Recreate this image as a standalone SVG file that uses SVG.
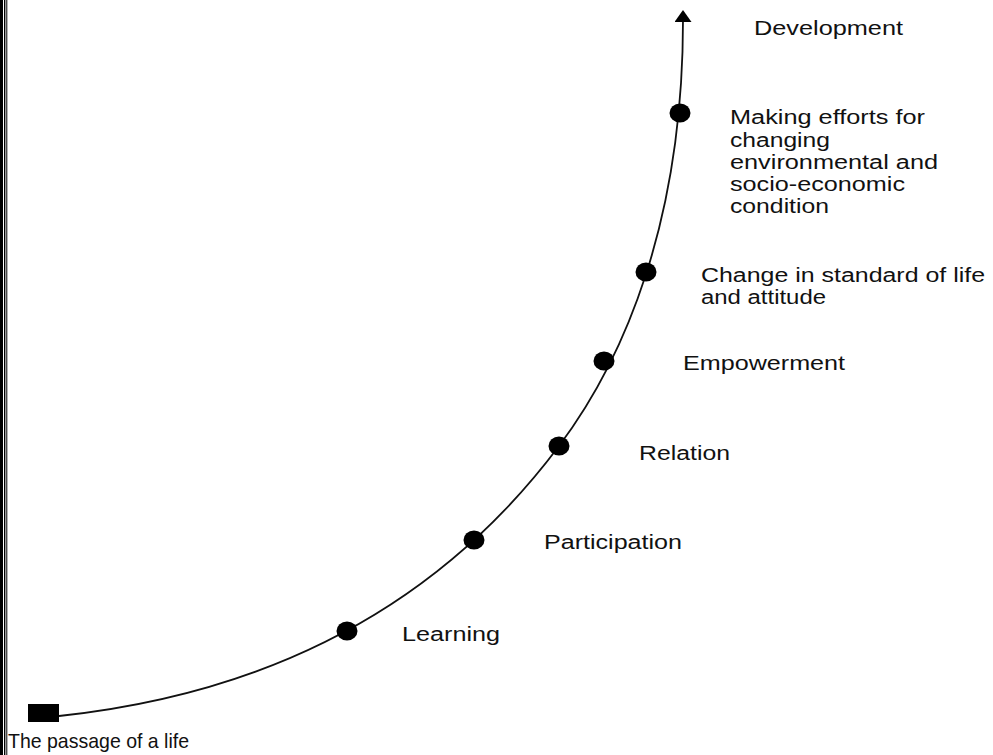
<svg xmlns="http://www.w3.org/2000/svg" width="993" height="755" viewBox="0 0 993 755">
  <style>
    .lbl { font-family: "Liberation Sans", Arial, sans-serif; font-size: 19.5px; fill: #111; }
    .big { font-size: 21px; }
    .dot { fill: #000; }
    .path { fill: none; stroke: #111; stroke-width: 1.8; }
  </style>
  <defs>
    <marker id="arrow" markerUnits="userSpaceOnUse" viewBox="0 0 12 17" markerWidth="12" markerHeight="17" refX="2" refY="8.5" orient="auto">
      <path d="M0,0 L12,8.5 L0,17 z" fill="#000"/>
    </marker>
  </defs>
  <rect width="993" height="755" fill="#fff"/>

  <!-- page border on the left edge -->
  <g id="border">
    <rect x="0" y="0" width="3" height="755" fill="#000"/>
    <rect x="4" y="0" width="1.4" height="755" fill="#000"/>
    <rect x="6.3" y="0" width="1" height="755" fill="#000"/>
  </g>

  <!-- growth curve: two smooth cubic pieces joined at the "Relation" stage -->
  <g id="connectors">
    <path class="path" marker-end="url(#arrow)" d="M59,716 C359,684 499,526 559,446 C625,358 683,220 683,20"/>
  </g>

  <g id="start">
    <rect x="28" y="704" width="31" height="18" fill="#000"/>
    <text class="lbl big" x="8" y="748" textLength="181" lengthAdjust="spacingAndGlyphs">The passage of a life</text>
  </g>

  <g id="learning">
    <ellipse class="dot" cx="347" cy="631" rx="10.5" ry="9.5"/>
    <text class="lbl" x="402" y="641" textLength="98" lengthAdjust="spacingAndGlyphs">Learning</text>
  </g>

  <g id="participation">
    <ellipse class="dot" cx="474" cy="540" rx="10.5" ry="9.5"/>
    <text class="lbl" x="544" y="549" textLength="138" lengthAdjust="spacingAndGlyphs">Participation</text>
  </g>

  <g id="relation">
    <ellipse class="dot" cx="559" cy="446" rx="10.5" ry="9.5"/>
    <text class="lbl" x="639" y="460" textLength="91" lengthAdjust="spacingAndGlyphs">Relation</text>
  </g>

  <g id="empowerment">
    <ellipse class="dot" cx="604" cy="361" rx="10.5" ry="9.5"/>
    <text class="lbl" x="683" y="370" textLength="162" lengthAdjust="spacingAndGlyphs">Empowerment</text>
  </g>

  <g id="change">
    <ellipse class="dot" cx="646" cy="272" rx="10.5" ry="9.5"/>
    <text class="lbl" x="701" y="282" textLength="284" lengthAdjust="spacingAndGlyphs">Change in standard of life</text>
    <text class="lbl" x="701" y="304" textLength="125" lengthAdjust="spacingAndGlyphs">and attitude</text>
  </g>

  <g id="efforts">
    <ellipse class="dot" cx="680" cy="113" rx="10.5" ry="9.5"/>
    <text class="lbl" x="730" y="124" textLength="195" lengthAdjust="spacingAndGlyphs">Making efforts for</text>
    <text class="lbl" x="730" y="147" textLength="100" lengthAdjust="spacingAndGlyphs">changing</text>
    <text class="lbl" x="730" y="169" textLength="208" lengthAdjust="spacingAndGlyphs">environmental and</text>
    <text class="lbl" x="730" y="191" textLength="175" lengthAdjust="spacingAndGlyphs">socio-economic</text>
    <text class="lbl" x="730" y="213" textLength="99" lengthAdjust="spacingAndGlyphs">condition</text>
  </g>

  <g id="development">
    <text class="lbl" x="754" y="35" textLength="149" lengthAdjust="spacingAndGlyphs">Development</text>
  </g>
</svg>
